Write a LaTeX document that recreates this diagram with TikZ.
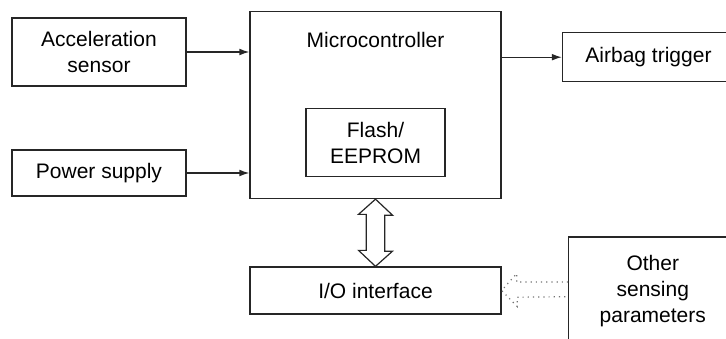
\documentclass[tikz,border=0pt]{standalone}
\usepackage{fontspec}
\setmainfont{Liberation Sans}
\usetikzlibrary{arrows.meta,positioning}

\begin{document}
\begin{tikzpicture}[
  x=0.5pt, y=-0.5pt,
  block/.style={rectangle, draw=black!85, line width=0.65pt, inner sep=0pt,
    align=center, font=\fontsize{10.5}{12.8}\selectfont},
  title/.style={inner sep=0pt, font=\fontsize{10.5}{12.8}\selectfont},
  sig/.style={draw=black!85, line width=0.65pt,
    -{Latex[length=5pt,width=3.4pt]}},
  bus/.style={draw=black!85, line width=0.6pt, line join=miter},
  aux/.style={draw=black!55, line width=0.6pt, dotted}
]
  \useasboundingbox (0,0) rectangle (726,338);
  \clip (0,0) rectangle (726,338);

  % Inputs.
  \node[block, minimum width=87pt, minimum height=34pt] (accel) at (99,52)
    {Acceleration\\sensor};
  \node[block, minimum width=87pt, minimum height=23pt] (power) at (99,173)
    {Power supply};

  % Controller.
  \node[block, minimum width=125.5pt, minimum height=93.5pt] (mcu) at (375.5,105) {};
  \node[title, below=10.5pt of mcu.north] (mcutitle) {Microcontroller};
  \node[block, minimum width=69.5pt, minimum height=34pt] (flash) at (375.5,142.7)
    {Flash/\\EEPROM};

  % Outputs and peripherals.
  \node[block, minimum width=86pt, minimum height=24.5pt] (airbag) at (648.5,57.2)
    {Airbag trigger};
  \node[block, minimum width=125.5pt, minimum height=23.5pt] (io) at (375.5,290.5)
    {I/O interface};
  \node[block, minimum width=84pt, minimum height=54pt] (other) at (652.8,291)
    {Other\\sensing\\parameters};

  \draw[sig] (accel.east) -- (mcu.west |- accel.east);
  \draw[sig] (power.east) -- (mcu.west |- power.east);
  \draw[sig] (mcu.east |- airbag.west) -- (airbag.west);

  % Hollow double arrow between controller and I/O.
  \draw[bus] (mcu.south) -- ++(17,16) -- ++(-7.7,0) -- ++(0,36)
    -- ++(7.7,0) -- (io.north) -- ++(-17,-16) -- ++(7.7,0) -- ++(0,-36)
    -- ++(-7.7,0) -- cycle;

  % Hollow dotted arrow into I/O.
  \draw[aux] (other.west |- 0,282) -- ++(-51.5,0) -- ++(0,-8.5)
    -- (io.east) -- ++(15.5,16) -- ++(0,-9.3) -- (other.west |- 0,296.7);
\end{tikzpicture}
\end{document}
